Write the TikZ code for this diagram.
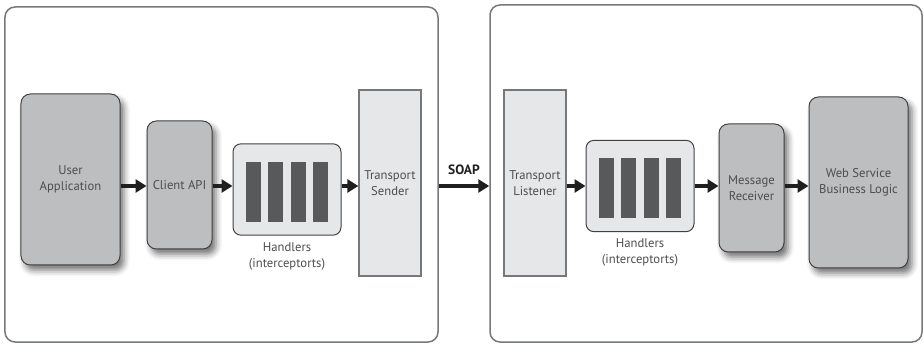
\documentclass[tikz,border=0pt]{standalone}
\usepackage{fontspec}
\setmainfont{PT Sans}
\usetikzlibrary{positioning,arrows.meta,shadows.blur}

\definecolor{boxgray}{HTML}{BCBEC0}
\definecolor{panelgray}{HTML}{E6E7E8}
\definecolor{bargray}{HTML}{58595B}
\definecolor{edgegray}{HTML}{414042}
\definecolor{framegray}{HTML}{77787B}
\definecolor{textgray}{HTML}{4D4D4F}

\newcommand\boxfont{\fontsize{10.8}{13.4}\selectfont}

\begin{document}
\begin{tikzpicture}[x=0.3mm, y=-0.3mm,
    frame/.style={draw=framegray, line width=0.45mm, rounded corners=3mm, inner sep=0pt},
    block/.style={draw=edgegray, fill=boxgray, line width=0.3mm, rounded corners=2.8mm,
      text=textgray, align=center, font=\boxfont,
      blur shadow={shadow xshift=1.2mm, shadow yshift=-1.6mm, shadow blur radius=1.8mm, shadow opacity=55}},
    chain/.style={draw=edgegray, fill=panelgray, line width=0.3mm, rounded corners=2.4mm,
      minimum width=32.4mm, minimum height=27.4mm},
    hbar/.style={fill=bargray, minimum width=4.5mm, minimum height=18mm, inner sep=0pt},
    transport/.style={draw=framegray, fill=panelgray, line width=0.4mm, text=textgray,
      align=center, font=\boxfont, minimum width=18.6mm, minimum height=55.8mm},
    note/.style={text=textgray, align=center, font=\boxfont},
    flow/.style={-{Triangle[length=3.3mm,width=3.9mm]}, line width=1.1mm, black!88}]

  \useasboundingbox (0,0) rectangle (924,344);
  \coordinate (axis) at (0,186);

  % client side and server side
  \node[frame, minimum width=129.9mm, minimum height=100.5mm] (client) at (221.5,174.5) {};
  \node[frame, minimum width=129.6mm, minimum height=101.1mm] (server) at (706,173.5) {};

  % client
  \node[block, minimum width=29.7mm, minimum height=51.3mm] (app) at (70.5,179.5) {User\\Application};
  \node[block, minimum width=19.5mm, minimum height=38.4mm] (api) at (179.5,185) {Client API};
  \node[chain] (out) at (287,189.5) {};
  \node[note, below=0.8mm of out] (outnote) {Handlers\\(interceptorts)};
  \node[transport] (sender) at (390,183) {Transport\\Sender};

  % server
  \node[transport] (listener) at (535,183) {Transport\\Listener};
  \node[chain] (in) at (640,186) {};
  \node[note, below=0.8mm of in] (innote) {Handlers\\(interceptorts)};
  \node[block, minimum width=19.5mm, minimum height=38.4mm] (receiver) at (751.5,188) {Message\\Receiver};
  \node[block, minimum width=29.7mm, minimum height=51.3mm] (logic) at (858.5,182.5) {Web Service\\Business Logic};

  % handler bars
  \foreach \k [count=\n] in {-1.5,-0.5,0.5,1.5} {
    \node[hbar] (outbar\n) at ([xshift=\k*6.72mm, yshift=-0.75mm]out.center) {};
    \node[hbar] (inbar\n) at ([xshift=\k*6.72mm, yshift=-0.75mm]in.center) {};
  }

  \begin{scope}[every edge/.style={draw, flow}]
    \path (app.east |- axis) edge (api.west |- axis);
    \path (api.east |- axis) edge (out.west |- axis);
    \path (out.east |- axis) edge (sender.west |- axis);
    \path (client.east |- axis) edge node[above=1.6mm, font=\fontsize{11.5}{13}\selectfont\bfseries] (soap) {SOAP} (server.west |- axis);
    \path (listener.east |- axis) edge (in.west |- axis);
    \path (in.east |- axis) edge (receiver.west |- axis);
    \path (receiver.east |- axis) edge (logic.west |- axis);
  \end{scope}

\end{tikzpicture}
\end{document}
